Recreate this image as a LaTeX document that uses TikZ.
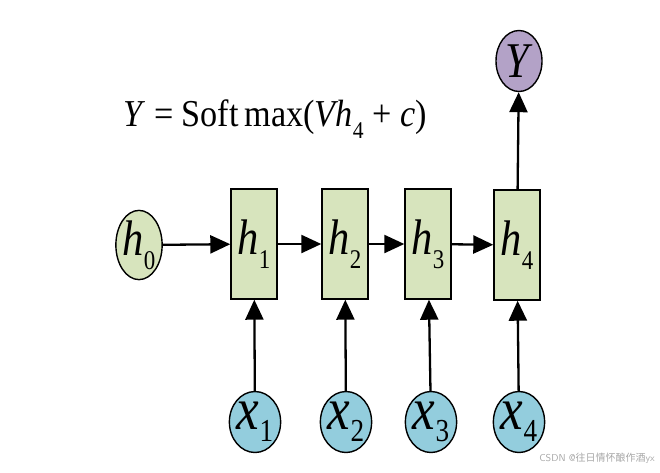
\documentclass[tikz,border=0pt]{standalone}
\usepackage{fontspec}
\setmainfont{Liberation Serif}
\newfontfamily\cjkfont{Noto Sans CJK SC}
\usetikzlibrary{arrows.meta,positioning,shapes.geometric}
\definecolor{cellgreen}{RGB}{215,228,189}
\definecolor{outpurple}{RGB}{179,162,199}
\definecolor{inblue}{RGB}{147,205,221}
% letter, index, letter size, index size, drop of the index
\newcommand\var[5]{\scalebox{0.85}[1]{{\fontsize{#3}{#3}\selectfont\textit{#1}}\raisebox{-#5}{\fontsize{#4}{#4}\selectfont #2}}}

\begin{document}
\begin{tikzpicture}[x=1pt, y=-1pt,
  cell/.style = {draw, line width=1.4pt, fill=cellgreen, minimum width=46pt, minimum height=110pt, inner sep=0pt},
  blob/.style = {draw, ellipse, line width=1.4pt, minimum width=46pt, minimum height=61pt, inner sep=0pt},
  link/.style = {-{Triangle[length=20pt,width=18pt]}, line width=2.3pt}]
\useasboundingbox (0,0) rectangle (660,472);

\node[blob, fill=cellgreen] (h0) at (139,245) {\var{h}{0}{50}{27}{14pt}};
\node[cell] (h1) at (254,244) {\var{h}{1}{50}{27}{14pt}};
\node[cell] (h2) at (345,244) {\var{h}{2}{50}{27}{14pt}};
\node[cell] (h3) at (428,244) {\var{h}{3}{50}{27}{14pt}};
\node[cell] (h4) at (517,245) {\var{h}{4}{50}{27}{14pt}};
\node[blob, fill=outpurple] (Y) at (519,61) {\scalebox{0.85}[1]{\fontsize{50}{50}\selectfont\textit{Y}}};

\node[blob, fill=inblue] (x1) at (255,422) {\var{x}{1}{60}{32}{12pt}};
\node[blob, fill=inblue] (x2) at (346,422) {\var{x}{2}{60}{32}{12pt}};
\node[blob, fill=inblue] (x3) at (431,422) {\var{x}{3}{60}{32}{12pt}};
\node[blob, fill=inblue] (x4) at (519,422) {\var{x}{4}{60}{32}{12pt}};

% recurrent links
\draw[link] (h0) -- (h1);
\draw[link] (h1) -- (h2);
\draw[link] (h2) -- (h3);
\draw[link] (h3) -- (h4);
\draw[link] (h4) -- (Y);
% inputs
\draw[link] (x1) -- (h1);
\draw[link] (x2) -- (h2);
\draw[link] (x3) -- (h3);
\draw[link] (x4) -- (h4);

\node[inner sep=0pt] (eq) at (275,119) {\scalebox{0.9}[1]{\fontsize{38}{38}\selectfont \textit{Y} = Soft\,max(\textit{Vh}\raisebox{-0.3em}{\fontsize{24}{24}\selectfont 4} + \textit{c})}};
\node[anchor=east, text=gray!70, inner sep=0pt] (mark) at (655,458) {\fontsize{10}{10}\selectfont\sffamily CSDN @{\cjkfont 往日情怀酿作酒}yx};
\end{tikzpicture}
\end{document}
